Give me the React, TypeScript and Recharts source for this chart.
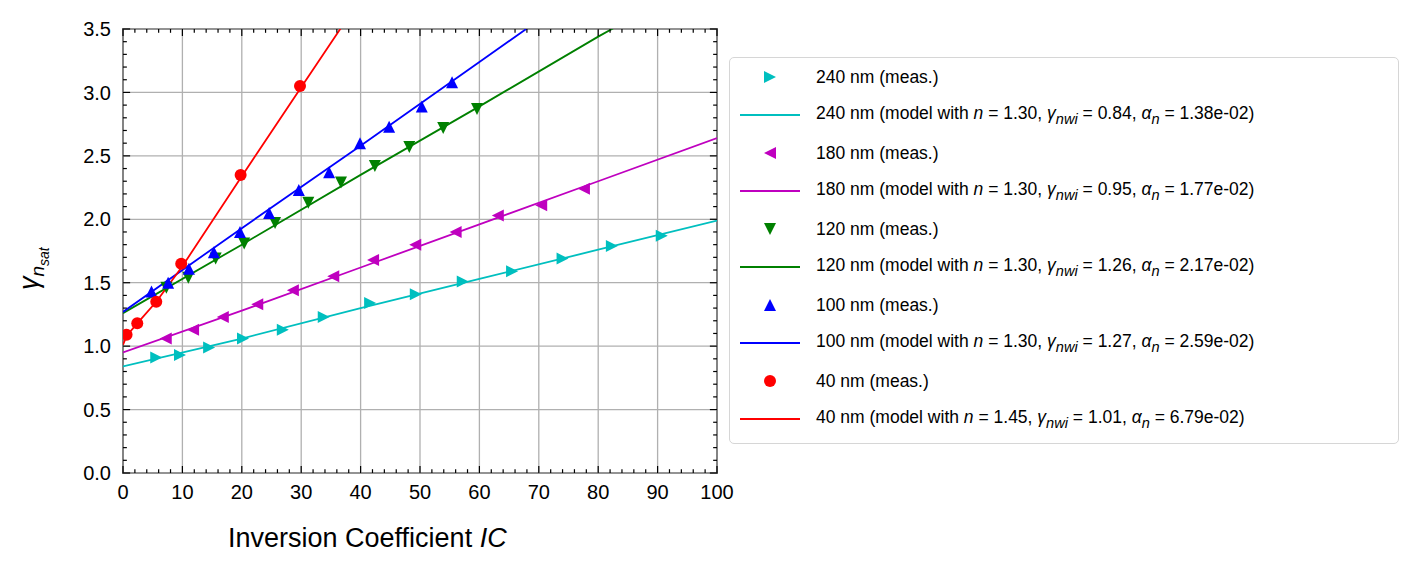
import React from 'react';
import { ComposedChart, Line, Scatter, XAxis, YAxis, ReferenceLine, ReferenceArea } from 'recharts';

// measured points (IC, gamma)
const ic240 = [5.6, 9.6, 14.5, 20.2, 26.9, 33.8, 41.6, 49.3, 57.2, 65.5, 74, 82.3, 90.7];
const g240 = [0.91, 0.93, 0.99, 1.06, 1.13, 1.23, 1.34, 1.41, 1.51, 1.59, 1.69, 1.79, 1.87];
const ic180 = [7.2, 11.8, 16.8, 22.6, 28.6, 35.4, 42.1, 49.2, 56, 63.1, 70.4, 77.6];
const g180 = [1.06, 1.13, 1.23, 1.33, 1.44, 1.55, 1.68, 1.8, 1.9, 2.03, 2.11, 2.24];
const ic120 = [7.3, 11, 15.6, 20.4, 25.6, 31.2, 36.7, 42.4, 48.2, 53.9, 59.6];
const g120 = [1.46, 1.54, 1.69, 1.81, 1.97, 2.13, 2.29, 2.42, 2.57, 2.72, 2.87];
const ic100 = [4.8, 7.6, 11.1, 15.3, 19.7, 24.6, 29.6, 34.7, 39.9, 44.8, 50.3, 55.4];
const g100 = [1.43, 1.5, 1.61, 1.74, 1.9, 2.05, 2.23, 2.37, 2.6, 2.73, 2.89, 3.08];
const ic40 = [0.6, 2.4, 5.6, 9.8, 19.8, 29.8];
const g40 = [1.09, 1.18, 1.35, 1.65, 2.35, 3.05];

// model curves
const mIc240 = [0, 20, 40, 60, 80, 100];
const mG240 = [0.84, 1.06, 1.3, 1.53, 1.76, 1.99];
const mIc180 = [0, 20, 40, 60, 80, 100];
const mG180 = [0.95, 1.28, 1.62, 1.96, 2.3, 2.64];
const mIc120 = [0, 20, 40, 60, 80, 85];
const mG120 = [1.26, 1.8, 2.35, 2.89, 3.44, 3.57];
const mIc100 = [0, 20, 40, 60, 70];
const mG100 = [1.27, 1.93, 2.58, 3.24, 3.57];
const mIc40 = [0, 0.6, 2.4, 5.6, 10, 20, 30, 37];
const mG40 = [1.01, 1.08, 1.18, 1.35, 1.63, 2.34, 3.04, 3.53];

const xMajor = [0, 10, 20, 30, 40, 50, 60, 70, 80, 90, 100];
const xMinor = [2, 4, 6, 8, 12, 14, 16, 18, 22, 24, 26, 28, 32, 34, 36, 38, 42, 44, 46, 48, 52, 54, 56, 58, 62, 64, 66, 68, 72, 74, 76, 78, 82, 84, 86, 88, 92, 94, 96, 98];
const yMajor = [0, 0.5, 1, 1.5, 2, 2.5, 3, 3.5];
const yMinor = [0.1, 0.2, 0.3, 0.4, 0.6, 0.7, 0.8, 0.9, 1.1, 1.2, 1.3, 1.4, 1.6, 1.7, 1.8, 1.9, 2.1, 2.2, 2.3, 2.4, 2.6, 2.7, 2.8, 2.9, 3.1, 3.2, 3.3, 3.4];

const pts = (xs: number[], ys: number[]) => xs.map((x, i) => ({ x, y: ys[i] }));

type Kind = 'right' | 'left' | 'down' | 'up' | 'circle';

const Marker = ({ cx, cy, kind, color, s = 6 }: { cx: number; cy: number; kind: Kind; color: string; s?: number }) => {
  if (kind === 'circle') return <circle cx={cx} cy={cy} r={s} fill={color} />;
  let p = '';
  if (kind === 'right') p = `${cx + s},${cy} ${cx - s},${cy - s} ${cx - s},${cy + s}`;
  if (kind === 'left') p = `${cx - s},${cy} ${cx + s},${cy - s} ${cx + s},${cy + s}`;
  if (kind === 'up') p = `${cx},${cy - s} ${cx - s},${cy + s} ${cx + s},${cy + s}`;
  if (kind === 'down') p = `${cx},${cy + s} ${cx - s},${cy - s} ${cx + s},${cy - s}`;
  return <polygon points={p} fill={color} />;
};

const series = [
  { name: '240 nm', color: '#00BFBF', kind: 'right' as Kind, meas: pts(ic240, g240), model: pts(mIc240, mG240), n: '1.30', g: '0.84', a: '1.38e-02' },
  { name: '180 nm', color: '#BF00BF', kind: 'left' as Kind, meas: pts(ic180, g180), model: pts(mIc180, mG180), n: '1.30', g: '0.95', a: '1.77e-02' },
  { name: '120 nm', color: '#008000', kind: 'down' as Kind, meas: pts(ic120, g120), model: pts(mIc120, mG120), n: '1.30', g: '1.26', a: '2.17e-02' },
  { name: '100 nm', color: '#0000FF', kind: 'up' as Kind, meas: pts(ic100, g100), model: pts(mIc100, mG100), n: '1.30', g: '1.27', a: '2.59e-02' },
  { name: '40 nm', color: '#FF0000', kind: 'circle' as Kind, meas: pts(ic40, g40), model: pts(mIc40, mG40), n: '1.45', g: '1.01', a: '6.79e-02' },
];

const font = 'Arial, "Liberation Sans", sans-serif';

// tick lengths in data units (inward ticks)
const xLenMaj = 1.2, xLenMin = 0.65, yLenMaj = 0.055, yLenMin = 0.03;

const LegendModel = ({ s }: { s: any }) => (
  <span>
    {s.name} (model with <i>n</i> = {s.n}, <i>γ</i><sub><i>nwi</i></sub> = {s.g}, <i>α</i><sub><i>n</i></sub> = {s.a})
  </span>
);

const seg = (key: string, x1: number, y1: number, x2: number, y2: number) => (
  <ReferenceLine key={key} xAxisId="b" yAxisId="l" segment={[{ x: x1, y: y1 }, { x: x2, y: y2 }]} stroke="#000" strokeWidth={1.2} ifOverflow="visible" />
);

export default function App() {
  const ticks: React.ReactNode[] = [];
  xMajor.forEach(v => { ticks.push(seg('xb' + v, v, 0, v, yLenMaj)); ticks.push(seg('xt' + v, v, 3.5, v, 3.5 - yLenMaj)); });
  xMinor.forEach(v => { ticks.push(seg('xbm' + v, v, 0, v, yLenMin)); ticks.push(seg('xtm' + v, v, 3.5, v, 3.5 - yLenMin)); });
  yMajor.forEach(v => { ticks.push(seg('yl' + v, 0, v, xLenMaj, v)); ticks.push(seg('yr' + v, 100, v, 100 - xLenMaj, v)); });
  yMinor.forEach(v => { ticks.push(seg('ylm' + v, 0, v, xLenMin, v)); ticks.push(seg('yrm' + v, 100, v, 100 - xLenMin, v)); });

  return (
    <div style={{ position: 'relative', width: 1400, height: 560, fontFamily: font, background: '#fff' }}>
      <ComposedChart width={1400} height={560} margin={{ top: 21, right: 691, left: 55, bottom: 45 }}>
        <XAxis xAxisId="b" type="number" dataKey="x" domain={[0, 100]} ticks={xMajor} interval={0} allowDataOverflow
          tickLine={false} axisLine={false} tickMargin={6} height={50}
          tick={{ fontSize: 20, fill: '#000', fontFamily: font }} />
        <YAxis yAxisId="l" type="number" dataKey="y" domain={[0, 3.5]} ticks={yMajor} interval={0} allowDataOverflow
          tickLine={false} axisLine={false} tickMargin={6} width={60} tickFormatter={(v: number) => v.toFixed(1)}
          tick={{ fontSize: 20, fill: '#000', fontFamily: font }} />
        {xMajor.map(v => (
          <ReferenceLine key={'gx' + v} xAxisId="b" yAxisId="l" x={v} stroke="#b0b0b0" strokeWidth={1.3} />
        ))}
        {yMajor.map(v => (
          <ReferenceLine key={'gy' + v} xAxisId="b" yAxisId="l" y={v} stroke="#b0b0b0" strokeWidth={1.3} />
        ))}
        {series.map(s => (
          <Line key={s.name + 'm'} xAxisId="b" yAxisId="l" data={s.model} dataKey="y" type="linear" stroke={s.color}
            strokeWidth={1.8} dot={false} isAnimationActive={false} />
        ))}
        {series.map(s => (
          <Scatter key={s.name + 's'} xAxisId="b" yAxisId="l" data={s.meas} dataKey="y" isAnimationActive={false}
            shape={(p: any) => <Marker cx={p.cx} cy={p.cy} kind={s.kind} color={s.color} />} />
        ))}
        {ticks}
        <ReferenceArea xAxisId="b" yAxisId="l" x1={0} x2={100} y1={0} y2={3.5} fill="none" fillOpacity={0}
          stroke="#000" strokeWidth={1.6} ifOverflow="visible" />
      </ComposedChart>
      <div style={{ position: 'absolute', left: 220, top: 515, fontSize: 27, color: '#000' }}>
        Inversion Coefficient <i>IC</i>
      </div>
      <div style={{ position: 'absolute', left: 6, top: 282, fontSize: 27, transform: 'rotate(-90deg)', transformOrigin: 'left top', whiteSpace: 'nowrap' }}>
        <i>γ</i><sub style={{ fontSize: 19 }}><i>n</i><sub style={{ fontSize: 14 }}><i>sat</i></sub></sub>
      </div>
      <div style={{ position: 'absolute', left: 721, top: 49, width: 668, height: 385, border: '1.5px solid #d6d6d6', borderRadius: 5, background: '#fff', fontSize: 17.5, color: '#000' }}>
        {series.map((s, i) => (
          <React.Fragment key={s.name}>
            <div style={{ position: 'absolute', top: 7 + i * 76, left: 0, height: 24, display: 'flex', alignItems: 'center', whiteSpace: 'nowrap' }}>
              <svg width={60} height={20} style={{ marginLeft: 10 }}>
                <Marker cx={30} cy={10} kind={s.kind} color={s.color} />
              </svg>
              <span style={{ marginLeft: 16 }}>{s.name} (meas.)</span>
            </div>
            <div style={{ position: 'absolute', top: 45 + i * 76, left: 0, height: 24, display: 'flex', alignItems: 'center', whiteSpace: 'nowrap' }}>
              <svg width={60} height={20} style={{ marginLeft: 10 }}>
                <line x1={0} y1={10} x2={60} y2={10} stroke={s.color} strokeWidth={1.8} />
              </svg>
              <span style={{ marginLeft: 16 }}><LegendModel s={s} /></span>
            </div>
          </React.Fragment>
        ))}
      </div>
    </div>
  );
}
